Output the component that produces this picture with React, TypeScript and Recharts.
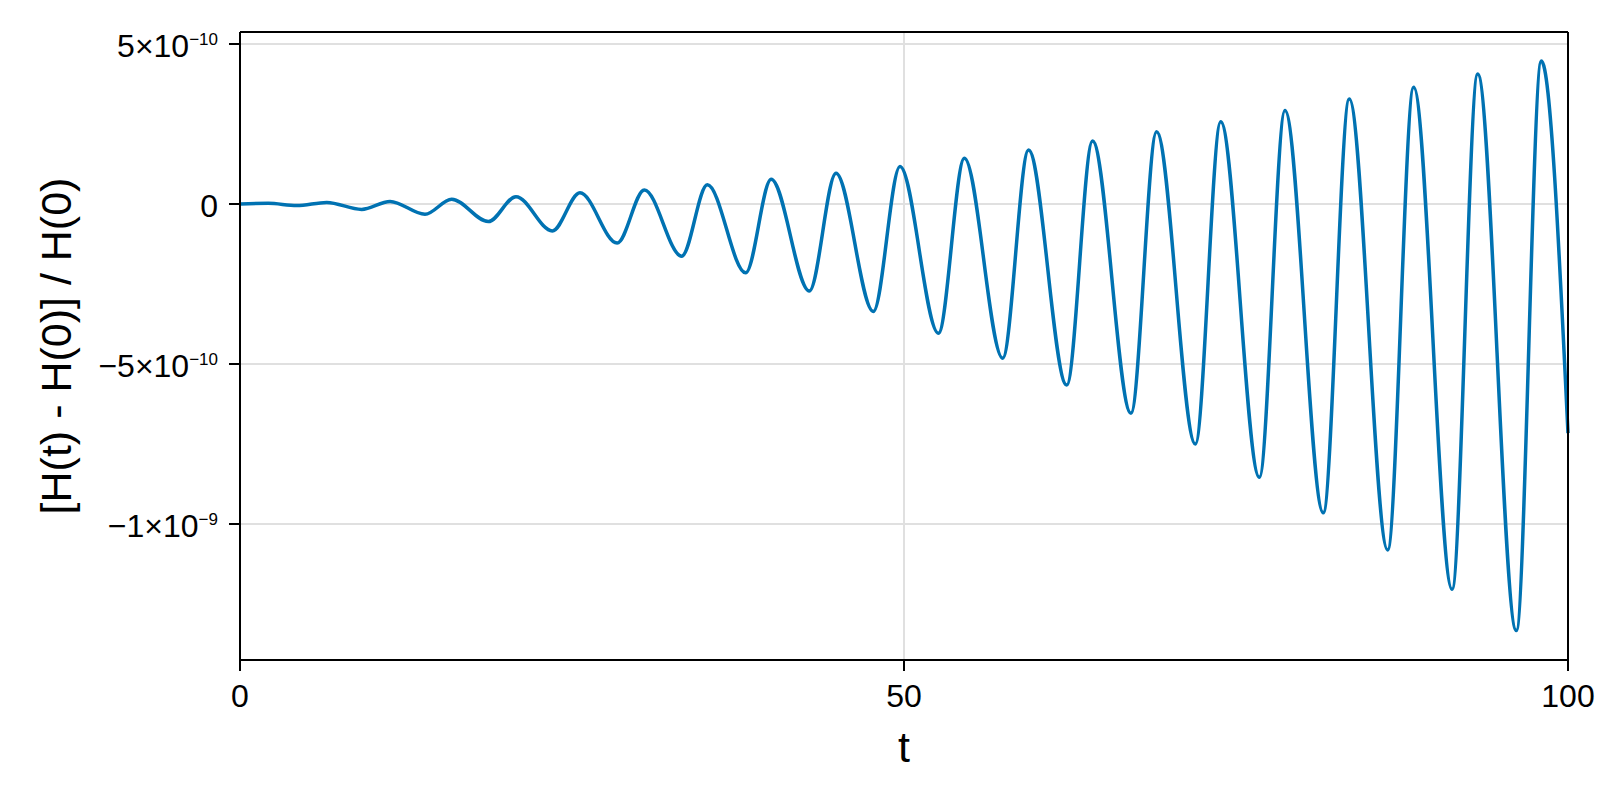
import { LineChart, Line, XAxis, YAxis, CartesianGrid, Label } from "recharts";

// turning points of the curve, plus both ends
const tValues = [
    0, 2.13, 4.27, 6.53, 9.16, 11.3, 13.93, 15.94, 18.7, 20.78, 23.52, 25.6,
    28.4, 30.45, 33.26, 35.19, 38.08, 40.0, 42.87, 44.88, 47.69, 49.7, 52.59,
    54.55, 57.43, 59.38, 62.25, 64.2, 67.09, 69.02, 71.94, 73.85, 76.76, 78.69,
    81.57, 83.53, 86.42, 88.38, 91.27, 93.2, 96.11, 97.99, 100,
];

// [H(t) - H(0)] / H(0) at those times, in units of 1e-10
const errorE10 = [
    0, 0.02, -0.05, 0.05, -0.17, 0.08, -0.32, 0.15, -0.55, 0.23, -0.84, 0.35,
    -1.22, 0.44, -1.63, 0.6, -2.15, 0.77, -2.72, 0.96, -3.36, 1.17, -4.04,
    1.43, -4.82, 1.69, -5.66, 1.97, -6.54, 2.26, -7.5, 2.57, -8.54, 2.92,
    -9.65, 3.28, -10.81, 3.65, -12.04, 4.06, -13.33, 4.47, -7.16,
];

const xTicks = [0, 50, 100];
const yTicks = [-1e-9, -5e-10, 0, 5e-10];
const yTickBase = ["\u22121\u00d710", "\u22125\u00d710", "0", "5\u00d710"];
const yTickExp = ["\u22129", "\u221210", "", "\u221210"];

const xDomain = [0, 100];
const yDomain = [-1.425e-9, 0.5375e-9];

const data = tValues.map((t, i) => ({ t, h: errorE10[i] * 1e-10 }));

const FONT = "'Liberation Sans', Arial, Helvetica, sans-serif";
const spine = { stroke: "#000", strokeWidth: 2 };

const YTick = ({ x, y, payload }: any) => {
    const i = yTicks.indexOf(payload.value);
    return (
        <text x={x} y={y + 12.5} textAnchor="end" fontSize={32} fill="#000" fontFamily={FONT}>
            {yTickBase[i]}
            {yTickExp[i] ? (
                <tspan dy={-11.5} fontSize={17}>
                    {yTickExp[i]}
                </tspan>
            ) : null}
        </text>
    );
};

const XTick = ({ x, y, payload }: any) => (
    <text x={x} y={y + 23} textAnchor="middle" fontSize={32} fill="#000" fontFamily={FONT}>
        {payload.value}
    </text>
);

const XLabel = ({ viewBox }: any) => (
    <text
        x={viewBox.x + viewBox.width / 2}
        y={viewBox.y + 102}
        textAnchor="middle"
        fontSize={43}
        fill="#000"
        fontFamily={FONT}
    >
        t
    </text>
);

const YLabel = ({ viewBox }: any) => {
    const x = viewBox.x + 31;
    const y = viewBox.y + viewBox.height / 2;
    return (
        <text
            x={x}
            y={y}
            transform={`rotate(-90, ${x}, ${y})`}
            textAnchor="middle"
            fontSize={43}
            fill="#000"
            fontFamily={FONT}
        >
            [H(t) - H(0)] / H(0)
        </text>
    );
};

export default function App() {
    return (
        <div
            style={{
                position: "absolute",
                left: 0,
                top: 0,
                width: 1600,
                height: 800,
                background: "#fff",
                fontFamily: FONT,
            }}
        >
            <LineChart
                width={1600}
                height={800}
                data={data}
                margin={{ top: 31, right: 31, left: 40, bottom: 40 }}
            >
                <CartesianGrid stroke="#e0e0e0" strokeWidth={2} />
                <XAxis
                    dataKey="t"
                    type="number"
                    domain={xDomain}
                    ticks={xTicks}
                    axisLine={spine}
                    tickLine={spine}
                    tickSize={11}
                    tickMargin={13}
                    tick={<XTick />}
                    height={100}
                >
                    <Label content={<XLabel />} />
                </XAxis>
                {/* top spine (an axis of zero height is not drawn, so 1px) */}
                <XAxis
                    xAxisId="top"
                    orientation="top"
                    dataKey="t"
                    type="number"
                    domain={xDomain}
                    axisLine={spine}
                    tick={false}
                    tickLine={false}
                    height={1}
                />
                <YAxis
                    type="number"
                    domain={yDomain}
                    allowDataOverflow
                    ticks={yTicks}
                    axisLine={spine}
                    tickLine={spine}
                    tickSize={11}
                    tickMargin={11}
                    tick={<YTick />}
                    width={200}
                >
                    <Label content={<YLabel />} />
                </YAxis>
                {/* right spine */}
                <YAxis
                    yAxisId="right"
                    orientation="right"
                    type="number"
                    domain={yDomain}
                    allowDataOverflow
                    axisLine={spine}
                    tick={false}
                    tickLine={false}
                    width={1}
                />
                <Line
                    type="monotone"
                    dataKey="h"
                    stroke="#0072b2"
                    strokeWidth={3.5}
                    dot={false}
                    activeDot={false}
                    isAnimationActive={false}
                />
            </LineChart>
        </div>
    );
}
